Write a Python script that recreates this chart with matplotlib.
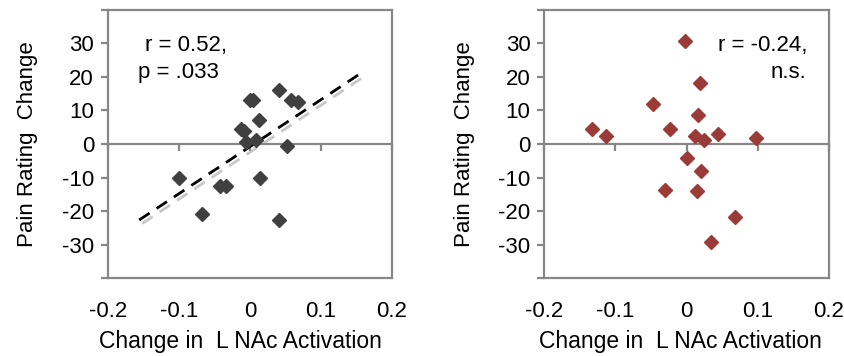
import matplotlib
matplotlib.use("Agg")
import matplotlib.pyplot as plt
import matplotlib.patheffects as pe
import numpy as np

plt.rcParams['font.family'] = ['Liberation Sans', 'DejaVu Sans']

# Left panel data
left_x = [-0.0995, -0.068, -0.0417, -0.033, -0.013, -0.008, -0.006, 0.0, 0.0046,
          0.013, 0.009, 0.0148, 0.0407, 0.052, 0.058, 0.0685, 0.0407]
left_y = [-10.0, -20.7, -12.4, -12.4, 4.5, 3.9, 0.7, 13.1, 13.1,
          7.1, 1.2, -10.0, 16.2, -0.6, 13.1, 12.6, -22.6]
trend_x = [-0.156, 0.162]
trend_y = [-22.6, 21.8]

# Right panel data
right_x = [-0.0023, 0.0187, -0.047, 0.0164, -0.1335, -0.113, -0.0234, 0.0117, 0.0239,
           0.0445, 0.0974, 0.001, 0.0197, -0.030, 0.014, 0.0679, 0.034]
right_y = [30.5, 18.0, 12.0, 8.6, 4.6, 2.4, 4.6, 2.5, 1.2,
           3.0, 1.7, -4.3, -8.0, -13.7, -13.9, -21.8, -29.2]

x_ticks = [-0.2, -0.1, 0, 0.1, 0.2]
x_tick_labels = ['-0.2', '-0.1', '0', '0.1', '0.2']
y_ticks = [-40, -30, -20, -10, 0, 10, 20, 30, 40]
y_tick_labels = ['', '-30', '-20', '-10', '0', '10', '20', '30', '']

x_label = 'Change in  L NAc Activation'
y_label = 'Pain Rating  Change'

GRAY = '#878787'
FS = 16

fig = plt.figure(figsize=(8.45, 3.56), dpi=100)
ax1 = fig.add_axes([0.1278, 0.2177, 0.3357, 0.7556])
ax2 = fig.add_axes([0.6441, 0.2177, 0.3369, 0.7556])


def style(ax, xlabel_x):
    ax.set_xlim(-0.2, 0.2)
    ax.set_ylim(-40, 40)
    for s in ax.spines.values():
        s.set_color(GRAY)
        s.set_linewidth(1.6)
    ax.set_yticks(y_ticks)
    ax.set_yticklabels(y_tick_labels)
    ax.set_xticks(x_ticks)
    ax.set_xticklabels(x_tick_labels)
    ax.tick_params(axis='y', direction='out', length=5, width=1.6, color=GRAY,
                   labelsize=FS, pad=5)
    ax.tick_params(axis='x', length=0, labelsize=FS, pad=16)
    # horizontal axis line through y = 0 with its tick marks
    sec = ax.secondary_xaxis(0.49999)
    sec.set_xticks(x_ticks)
    sec.tick_params(axis='x', which='both', direction='out', length=5, width=1.6,
                    color=GRAY, labelbottom=False, labeltop=False)
    for s in sec.spines.values():
        s.set_color(GRAY)
        s.set_linewidth(1.6)
    ax.set_xlabel(x_label, fontsize=16.5, labelpad=6)
    ax.xaxis.label.set_x(xlabel_x)
    ax.set_ylabel(y_label, fontsize=FS, labelpad=17)


style(ax1, 0.466)
style(ax2, 0.478)

ax1.plot(trend_x, trend_y, linestyle=(0, (4.5, 3)), color='black', lw=2.0,
         path_effects=[pe.SimpleLineShadow(offset=(2.2, -2.5), shadow_color='#9a9a9a', alpha=0.55),
                       pe.Normal()], zorder=3)
ax1.plot(left_x, left_y, linestyle='none', marker='D', ms=6.8, color='#404040', zorder=4)
ax2.plot(right_x, right_y, linestyle='none', marker='D', ms=6.8, color='#9a3b37', zorder=4)

ax1.text(-0.1478, 29.4, 'r = 0.52,', fontsize=FS, ha='left', va='center')
ax1.text(-0.1577, 21.4, 'p = .033', fontsize=FS, ha='left', va='center')
ax2.text(0.169, 29.4, 'r = -0.24,', fontsize=FS, ha='right', va='center')
ax2.text(0.168, 21.2, 'n.s.', fontsize=FS, ha='right', va='center')

fig.savefig('out.png', dpi=100)
